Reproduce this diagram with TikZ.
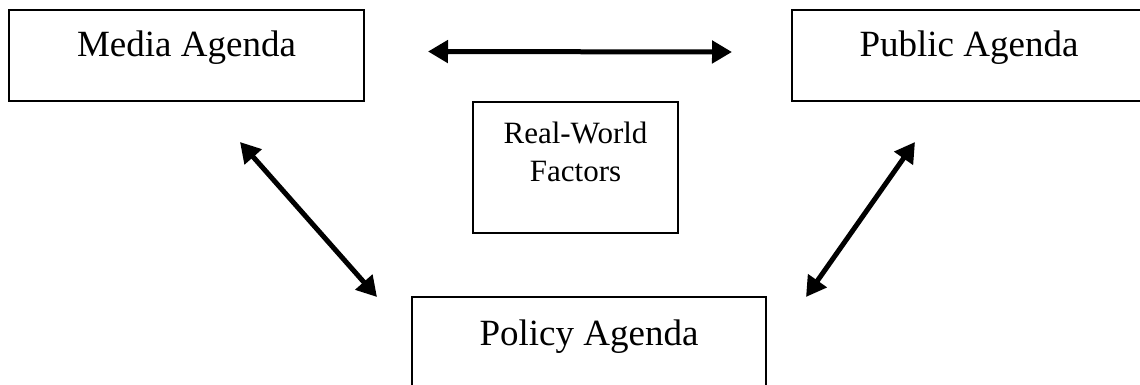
\documentclass[tikz,border=0pt]{standalone}
\usepackage{fontspec}
\setmainfont{Liberation Serif}
\usetikzlibrary{arrows.meta}

\tikzset{
  agendabox/.style={draw=black, line width=2.2pt, inner sep=0pt, fill=none},
  biarrow/.style={line width=5pt, {Triangle[length=20pt,width=22pt]}-{Triangle[length=20pt,width=22pt]}},
  bigtext/.style={font=\fontsize{37}{44}\selectfont, inner sep=0pt},
  smalltext/.style={font=\fontsize{31}{38}\selectfont, inner sep=0pt, align=center}
}

\begin{document}
\begin{tikzpicture}[x=1pt, y=-1pt]
  \useasboundingbox (0,0) rectangle (1140,385);

  % the four boxes, label baselines set from the top edge
  \node[agendabox, minimum width=355pt, minimum height=91pt,
        label={[bigtext, anchor=base, yshift=-48pt]north:Media Agenda}]
        (media) at (186.5,55.5) {};
  \node[agendabox, minimum width=354pt, minimum height=91pt,
        label={[bigtext, anchor=base, yshift=-48pt]north:Public Agenda}]
        (public) at (969,55.5) {};
  \node[agendabox, minimum width=354pt, minimum height=92pt,
        label={[bigtext, anchor=base, yshift=-50pt]north:Policy Agenda}]
        (policy) at (589,343) {};
  \node[agendabox, minimum width=205pt, minimum height=131pt,
        label={[smalltext, anchor=north, yshift=-21pt]north:Real-World\\Factors}]
        (factors) at (575.5,167.5) {};

  % arrow end points between the boxes
  \coordinate (mp1) at (428,51.5);
  \coordinate (mp2) at (732,52);
  \coordinate (ml1) at (240,142);
  \coordinate (ml2) at (377,297);
  \coordinate (pl1) at (915,142);
  \coordinate (pl2) at (806,297);

  \draw[biarrow] (mp1) -- (mp2);
  \draw[biarrow] (ml1) -- (ml2);
  \draw[biarrow] (pl1) -- (pl2);
\end{tikzpicture}
\end{document}
